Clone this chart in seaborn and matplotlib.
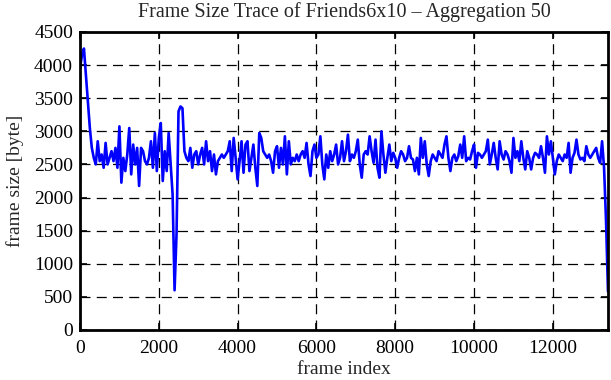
import numpy as np
import pandas as pd
import matplotlib
matplotlib.use("Agg")
import matplotlib.pyplot as plt
import seaborn as sns

# frame size trace, aggregated over blocks of 50 frames
AGG = 50
SIZES = [
    3950, 4150, 4250, 3850, 3450, 3050, 2750, 2600, 2500, 2850,
    2550, 2650, 2450, 2825, 2500, 2600, 2700, 2550, 2750, 2450,
    3075, 2225, 2600, 2400, 2650, 3050, 2350, 2800, 2500, 2750,
    2175, 2750, 2700, 2550, 2500, 2600, 2850, 2450, 2975, 2400,
    2900, 3125, 2250, 2700, 2400, 2975, 2500, 2050, 600, 1450,
    3300, 3375, 3350, 2700, 2600, 2550, 2750, 2450, 2650, 2700,
    2500, 2650, 2750, 2500, 2850, 2550, 2700, 2400, 2650, 2350,
    2550, 2600, 2650, 2600, 2650, 2700, 2850, 2400, 2900, 2600,
    2275, 2550, 2850, 2375, 2800, 2850, 2400, 2600, 2800, 2450,
    2175, 2975, 2900, 2700, 2650, 2600, 2650, 2550, 2375, 2700,
    2775, 2450, 2750, 2500, 2925, 2350, 2850, 2500, 2600, 2550,
    2650, 2550, 2650, 2700, 2600, 2825, 2500, 2325, 2700, 2800,
    2600, 2650, 2925, 2500, 2275, 2650, 2450, 2700, 2550, 2650,
    2800, 2500, 2600, 2850, 2550, 2700, 2950, 2550, 2650, 2600,
    2700, 2875, 2500, 2300, 2650, 2700, 2650, 2925, 2700, 2525,
    2875, 2450, 2300, 3000, 2650, 2375, 2600, 2800, 2550, 2675,
    2600, 2450, 2600, 2700, 2650, 2550, 2600, 2775, 2600, 2575,
    2400, 2600, 2350, 2900, 2600, 2850, 2500, 2325, 2550, 2650,
    2600, 2550, 2700, 2650, 2600, 2800, 2925, 2600, 2400, 2600,
    2650, 2550, 2625, 2800, 2600, 2925, 2550, 2600, 2575, 2700,
    2800, 2450, 2675, 2650, 2600, 2650, 2700, 2875, 2500, 2650,
    2825, 2600, 2425, 2850, 2650, 2575, 2700, 2650, 2550, 2375,
    2900, 2600, 2700, 2550, 2850, 2600, 2425, 2700, 2600, 2425,
    2600, 2675, 2650, 2600, 2775, 2600, 2375, 2925, 2650, 2850,
    2600, 2350, 2550, 2650, 2600, 2550, 2650, 2600, 2825, 2375,
    2600, 2675, 2875, 2650, 2575, 2600, 2550, 2775, 2650, 2600,
    2650, 2700, 2750, 2600, 2525, 2850, 2450, 1650, 580,
]
XTICKS = [0, 2000, 4000, 6000, 8000, 10000, 12000]
YTICKS = list(range(0, 4501, 500))

df = pd.DataFrame({"frame": np.arange(len(SIZES)) * AGG, "size": SIZES})

sns.set_style("ticks")
plt.rcParams["font.family"] = ["Liberation Serif", "DejaVu Serif"]

fig = plt.figure(figsize=(6.11, 3.80), dpi=100)
ax = fig.add_axes([80 / 611, 50 / 380, 528 / 611, 298 / 380])

sns.lineplot(data=df, x="frame", y="size", ax=ax, color="#0000ff", lw=1.9)

ax.set_xlim(0, df["frame"].iloc[-1])
ax.set_ylim(0, 4500)
ax.set_xticks(XTICKS)
ax.set_yticks(YTICKS)
ax.grid(True, color="black", linestyle=(0, (8, 5)), linewidth=0.9)
ax.tick_params(direction="in", length=5, width=1.2, labelsize=14,
               top=True, right=True, colors="black", pad=5)
ax.tick_params(axis="x", pad=7)
for sp in ax.spines.values():
    sp.set_linewidth(2)
    sp.set_color("black")

ax.set_xlabel("frame index", fontsize=14, labelpad=3)
ax.set_ylabel("frame size [byte]", fontsize=14, labelpad=7)
ax.set_title("Frame Size Trace of Friends6x10 – Aggregation 50", fontsize=14.5, pad=11)

fig.savefig("out.png", dpi=100)
